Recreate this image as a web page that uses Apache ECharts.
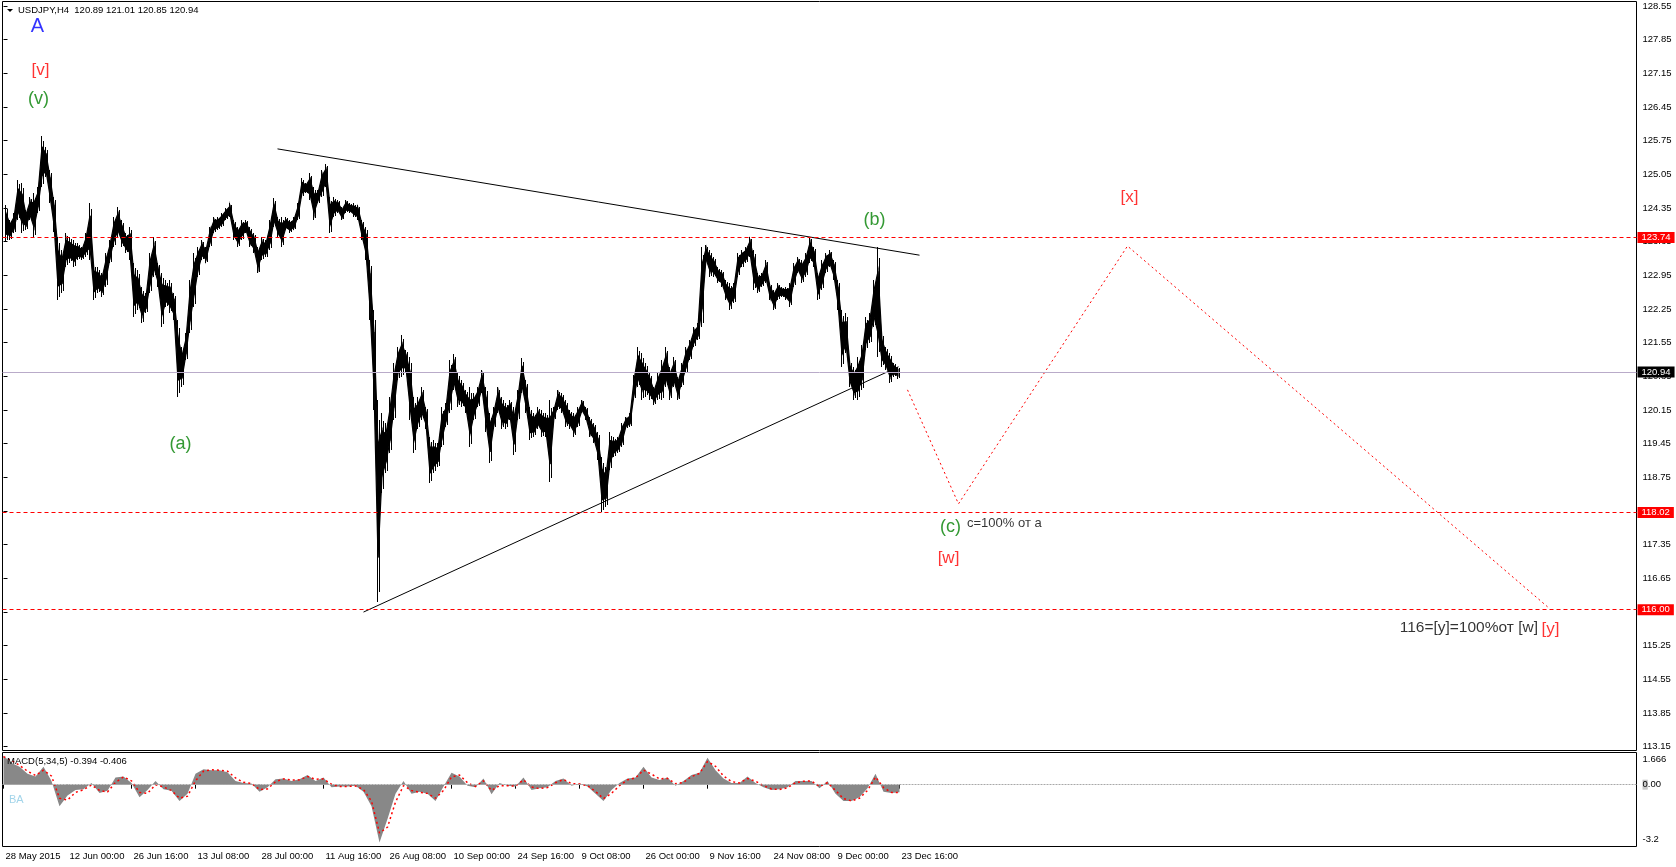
<!DOCTYPE html>
<html><head><meta charset="utf-8">
<script src="https://cdn.jsdelivr.net/npm/echarts@6/dist/echarts.min.js"></script>
<style>html,body{margin:0;padding:0;background:#fff;}#c{width:1676px;height:867px;}</style>
</head><body><div id="c"></div>
<script>
// ---- data (H4 bars grouped by 4) ----
const highs = [124.41,124.10,124.25,124.93,124.87,124.31,124.58,124.66,124.79,125.85,
125.62,125.14,124.58,123.75,123.48,123.83,123.75,123.69,123.62,123.54,
123.83,124.45,123.21,123.12,123.00,123.42,123.69,124.16,124.37,124.10,
123.83,123.96,123.21,123.06,122.71,122.58,123.42,123.75,123.21,123.00,
122.85,122.85,122.58,122.02,121.46,121.75,122.85,123.42,123.54,123.69,
123.54,123.96,124.16,124.16,124.25,124.35,124.45,124.10,123.96,124.10,
124.10,123.96,123.83,123.54,123.75,123.69,124.10,124.56,124.16,124.16,
124.16,124.10,124.16,124.45,124.97,124.87,125.08,124.79,124.72,125.14,
125.27,124.58,124.58,124.52,124.37,124.52,124.45,124.45,124.41,124.10,
123.96,123.27,122.23,120.36,120.09,119.88,120.42,121.13,121.46,121.71,
121.40,121.25,120.42,120.42,120.63,120.21,119.59,119.53,119.46,120.21,
120.30,121.19,121.32,120.92,120.77,120.57,120.63,120.50,120.63,120.98,
120.63,120.09,120.21,120.63,120.42,120.30,120.36,120.21,120.57,121.23,
120.77,120.21,120.09,120.21,120.15,120.09,120.36,120.21,120.57,120.50,
120.36,120.15,120.09,120.21,120.36,120.21,120.01,119.88,119.69,119.17,
118.97,119.69,119.59,119.59,119.88,120.01,120.09,120.88,121.46,121.34,
121.13,120.92,120.63,120.92,121.19,121.46,121.05,121.25,120.84,121.13,
121.46,121.61,121.88,121.96,123.54,123.58,123.48,123.33,123.12,123.06,
122.85,122.79,122.79,123.42,123.48,123.54,123.75,123.48,123.00,123.00,
123.27,122.79,122.65,122.79,122.71,122.71,122.79,123.21,123.33,123.27,
123.42,123.75,123.54,123.00,123.27,123.42,123.48,123.27,122.85,122.23,
122.17,121.19,121.05,121.25,121.50,122.08,122.17,122.85,123.54,121.75,
121.46,121.34,121.13,121.05];
const lows = [123.64,123.69,123.83,124.10,123.83,123.89,124.10,123.75,124.25,124.79,
124.99,124.45,123.85,122.44,122.58,123.12,123.21,123.12,123.27,123.27,
123.33,123.27,122.44,122.58,122.50,122.71,123.21,123.54,123.75,123.54,
123.42,123.27,122.08,122.23,121.96,122.17,122.58,122.92,122.71,121.88,
122.29,122.17,122.02,120.42,120.63,121.19,121.75,122.29,122.92,123.27,
123.21,123.54,123.83,123.89,123.96,124.10,124.16,123.69,123.54,123.69,
123.83,123.54,123.42,123.00,123.27,123.33,123.48,123.96,123.75,123.54,
123.89,123.83,123.89,124.10,124.58,124.66,124.52,124.10,124.45,124.58,
124.79,123.83,124.16,124.25,124.10,124.25,124.25,124.16,124.10,123.69,
123.27,122.02,120.15,116.16,118.42,118.84,119.26,119.94,120.77,120.84,
120.92,119.94,119.26,119.76,119.94,119.76,118.63,118.84,118.97,119.38,
119.80,120.09,120.57,120.21,120.21,120.09,119.38,119.94,120.21,120.50,
119.69,119.05,119.76,120.09,119.76,119.76,119.94,119.22,119.94,120.50,
120.09,119.53,119.59,119.76,119.59,119.59,118.65,119.94,120.15,120.09,
119.80,119.76,119.59,119.80,120.09,119.94,119.59,119.46,119.11,118.03,
118.13,118.90,119.17,119.26,119.38,119.76,119.80,120.36,120.63,120.36,
120.42,120.36,120.26,120.36,120.36,120.63,120.36,120.63,120.36,120.63,
120.92,121.19,121.46,121.61,121.88,123.21,122.92,122.92,122.79,122.71,
122.44,122.23,122.38,122.92,123.12,123.21,123.33,122.65,122.58,122.71,
122.79,122.44,122.23,122.44,122.50,122.44,122.29,122.71,123.00,122.79,
122.92,123.21,123.12,122.44,122.65,123.00,123.12,122.85,122.23,121.05,
121.34,120.63,120.36,120.36,120.57,121.40,121.54,121.88,121.25,121.05,
120.98,120.71,120.84,120.81];
// MACD(5,34,5), one value every 8 bars
const macdHist = [1.5,1.12,0.93,0.56,0.43,0.93,0.19,-1.12,-0.56,-0.28,-0.24,0.09,-0.43,-0.32,0.37,0.43,0.09,-0.65,-0.28,0.19,
-0.24,-0.32,-0.84,-0.47,0.56,0.80,0.75,0.75,0.65,0.19,0.09,0.06,-0.37,-0.13,0.28,0.32,0.19,0.28,0.5,0.19,
0.37,-0.13,-0.09,-0.09,-0.06,-0.37,-1.12,-2.99,-1.78,-0.47,0.19,-0.47,-0.37,-0.47,-0.84,-0.09,0.62,0.43,-0.06,-0.13,
0.32,-0.5,0.09,-0.06,-0.09,0.37,-0.28,-0.19,-0.13,0.19,0.32,-0.06,0.06,-0.09,-0.47,-0.84,-0.28,0.09,0.32,0.37,
0.93,0.37,0.24,0.37,-0.06,0.19,0.5,0.62,1.4,0.75,0.32,0.09,0.09,0.43,0.09,-0.13,-0.28,-0.24,-0.13,0.19,
0.19,0.19,-0.19,0.19,-0.47,-0.84,-0.84,-0.65,-0.19,0.56,-0.37,-0.43,-0.394];
const macdSignal = [1.45,1.25,1.0,0.7,0.48,0.75,0.45,-0.7,-0.8,-0.4,-0.26,-0.02,-0.3,-0.38,0.12,0.4,0.2,-0.4,-0.45,0.0,
-0.12,-0.3,-0.7,-0.6,0.2,0.7,0.77,0.75,0.7,0.35,0.12,0.07,-0.25,-0.22,0.15,0.3,0.24,0.25,0.42,0.28,
0.3,0.02,-0.1,-0.09,-0.07,-0.25,-0.85,-2.5,-2.2,-0.9,-0.05,-0.3,-0.4,-0.45,-0.7,-0.3,0.4,0.5,0.1,-0.1,
0.2,-0.3,-0.05,-0.05,-0.08,0.25,-0.12,-0.2,-0.15,0.1,0.27,0.05,0.04,-0.05,-0.35,-0.72,-0.45,-0.05,0.25,0.35,
0.75,0.55,0.3,0.33,0.05,0.12,0.42,0.58,1.2,0.95,0.45,0.16,0.09,0.32,0.18,-0.05,-0.22,-0.25,-0.16,0.1,
0.18,0.19,-0.08,0.1,-0.3,-0.72,-0.84,-0.7,-0.3,0.4,-0.15,-0.4,-0.406];
const timeLabels = ['28 May 2015','12 Jun 00:00','26 Jun 16:00','13 Jul 08:00','28 Jul 00:00','11 Aug 16:00','26 Aug 08:00','10 Sep 00:00','24 Sep 16:00','9 Oct 08:00','26 Oct 00:00','9 Nov 16:00','24 Nov 08:00','9 Dec 00:00','23 Dec 16:00'];
const timeTickBars = [0,64,128,192,256,320,384,448,512,576,640,704,768,832,896];
const priceTicks = [113.15,113.85,114.55,115.25,115.95,116.65,117.35,118.05,118.75,119.45,120.15,120.85,121.55,122.25,122.95,123.65,124.35,125.05,125.75,126.45,127.15,127.85,128.55];
const macdTicks = [-3.2,0,1.666];
const levels = [123.74,118.02,116.00];
const bidPrice = 120.94;
const upperTrend = [[274,125.58],[916,123.37]];
const lowerTrend = [[360,115.95],[895,121.05]];
const projection = [[904,120.57],[955,118.20],[1124,123.56],[1544,116.06]];
const waveLabels = ['A','[v]','(v)','(a)','(b)','(c)','[w]','[x]','[y]'];
const waveBars   = [34,37,35,177,871,947,945,1126,1547];
const wavePrices = [128.13,127.22,126.62,119.45,124.10,117.72,117.07,124.58,115.60];
const noteTexts  = ['c=100% от а','116=[y]=100%от [w]'];
const noteBars   = [963,1535];
const notePrices = [117.80,115.62];
const header = 'USDJPY,H4  120.89 121.01 120.85 120.94';
const macdHeader = 'MACD(5,34,5) -0.394 -0.406';

// ---- chart ----
const F = "'Liberation Sans', Arial, sans-serif";
const chart = echarts.init(document.getElementById('c'), null, {renderer:'canvas'});
function waveColor(t){ return t==='A' ? '#0000ff' : (t[0]==='[' ? '#ff0000' : '#008000'); }
function waveSize(t){ return t==='A' ? 20 : (t[0]==='[' ? 17 : 18); }
const CORE = 0.22; // share of each range trimmed off for the dense core band

const option = {
  animation:false,
  backgroundColor:'#fff',
  grid:[
    {left:2.5, top:1.5, width:1634, height:749, show:true, borderColor:'#000', borderWidth:1, backgroundColor:'#fff'},
    {left:2.5, top:752.5, width:1634, height:94, show:true, borderColor:'#000', borderWidth:1, backgroundColor:'#fff'}
  ],
  xAxis:[
    {type:'value', gridIndex:0, min:-1, max:1633, axisLine:{show:false}, axisTick:{show:false}, axisLabel:{show:false}, splitLine:{show:false}},
    {type:'value', gridIndex:1, min:-1, max:1633, axisLine:{show:false}, splitLine:{show:false},
     axisTick:{show:true, customValues:timeTickBars, length:4, lineStyle:{color:'#000'}},
     axisLabel:{show:true, customValues:timeTickBars, formatter:v=>timeLabels[timeTickBars.indexOf(v)], align:'left', padding:[0,0,0,2], margin:5, color:'#000', fontSize:9.5, fontFamily:F}}
  ],
  yAxis:[
    {type:'value', gridIndex:0, position:'right', min:113.072, max:128.644, axisLine:{show:false}, splitLine:{show:false},
     axisTick:{show:true, customValues:priceTicks, length:4, lineStyle:{color:'#000'}},
     axisLabel:{show:true, customValues:priceTicks, formatter:v=>v.toFixed(2), margin:6, color:'#000', fontSize:9.5, fontFamily:F}},
    {type:'value', gridIndex:1, position:'right', min:-3.2, max:1.666, axisLine:{show:false}, splitLine:{show:false}, axisTick:{show:false},
     axisLabel:{show:true, customValues:macdTicks, margin:6, color:'#000', fontSize:9.5, fontFamily:F,
       formatter:v=> v>1 ? '{t|1.666}' : (v<-1 ? '{b|-3.2}' : '{z|0}.00'),
       rich:{t:{padding:[14,0,0,0], fontSize:9.5, fontFamily:F}, b:{padding:[0,0,14,0], fontSize:9.5, fontFamily:F}, z:{backgroundColor:'#c8c8c8', fontSize:9.5, fontFamily:F}}}}
  ],
  graphic:[
    {type:'polygon', shape:{points:[[7,9],[13,9],[10,12]]}, style:{fill:'#000'}},
    {type:'text', left:18, top:5, style:{text:header, font:'9.5px '+F, fill:'#000'}},
    {type:'text', left:7, top:756, style:{text:macdHeader, font:'9.5px '+F, fill:'#000'}, z:100},
    {type:'text', left:9, top:794, style:{text:'BA', font:'11px '+F, fill:'#a3d5ea'}, z:100}
  ],
  series:[
    { // level lines and bid line with price tags
      type:'line', xAxisIndex:0, yAxisIndex:0, data:[], clip:false, silent:true,
      markLine:{silent:true, symbol:['none','none'], animation:false,
        data: levels.map(v=>({yAxis:v, lineStyle:{color:'#ff0000', type:[4,3], width:1},
              label:{show:true, position:'end', distance:1, formatter:v.toFixed(2), color:'#fff', backgroundColor:'#ff0000', padding:[1,4,0,4], fontSize:9.5, fontFamily:F}}))
          .concat([{yAxis:bidPrice, lineStyle:{color:'#b9abc9', type:'solid', width:1},
              label:{show:true, position:'end', distance:1, formatter:bidPrice.toFixed(2), color:'#fff', backgroundColor:'#000', padding:[1,4,0,4], fontSize:9.5, fontFamily:F}}])
      }
    },
    { // price bars: thin full-range wicks plus a dense core band joined to the next group
      type:'custom', xAxisIndex:0, yAxisIndex:0, silent:true,
      data: highs.map((h,i)=>[4*i+2.5, h, lows[i]]),
      encode:{x:0, y:[1,2]},
      renderItem:(params, api)=>{
        const k = params.dataIndex;
        const xb = api.value(0), hi = api.value(1), lo = api.value(2);
        const h0 = api.coord([xb, hi]);
        const l0 = api.coord([xb, lo]);
        const cx = Math.round(h0[0]);
        const children = [{type:'rect', shape:{x:cx-1, y:Math.round(h0[1]), width:1, height:Math.max(1,Math.round(l0[1]-h0[1]))}, style:{fill:'#000'}},
                          {type:'rect', shape:{x:cx+1, y:Math.round(h0[1]+ (l0[1]-h0[1])*0.1), width:1, height:Math.max(1,Math.round((l0[1]-h0[1])*0.85))}, style:{fill:'#000'}}];
        if (k+1 < highs.length) {
          const r0 = hi - lo, hi1 = highs[k+1], lo1 = lows[k+1], r1 = hi1 - lo1;
          const a = api.coord([xb, hi - r0*CORE]), b = api.coord([xb+4, hi1 - r1*CORE]);
          const c = api.coord([xb+4, lo1 + r1*CORE]), d = api.coord([xb, lo + r0*CORE]);
          children.push({type:'polygon', shape:{points:[a,b,c,d]}, style:{fill:'#000', stroke:'#000', lineWidth:1.2}});
        }
        return {type:'group', children:children};
      }
    },
    {type:'line', xAxisIndex:0, yAxisIndex:0, data:upperTrend, symbol:'none', silent:true, lineStyle:{color:'#000', width:1}},
    {type:'line', xAxisIndex:0, yAxisIndex:0, data:lowerTrend, symbol:'none', silent:true, lineStyle:{color:'#000', width:1}},
    {type:'line', xAxisIndex:0, yAxisIndex:0, data:projection, symbol:'none', silent:true, lineStyle:{color:'#ff0000', width:1, type:[2,3]}},
    {type:'scatter', xAxisIndex:0, yAxisIndex:0, symbolSize:1, silent:true, itemStyle:{color:'rgba(0,0,0,0)'},
     data: waveLabels.map((t,i)=>({value:[waveBars[i], wavePrices[i]],
        label:{show:true, position:'inside', formatter:t, color:waveColor(t), fontSize:waveSize(t), fontFamily:F}}))},
    {type:'scatter', xAxisIndex:0, yAxisIndex:0, symbolSize:1, silent:true, itemStyle:{color:'rgba(0,0,0,0)'},
     data: noteTexts.map((t,i)=>({value:[noteBars[i], notePrices[i]],
        label:{show:true, position: i===0 ? 'right' : 'left', distance:0, formatter:t, color:'#000', fontSize: i===0 ? 13 : 15.5, fontFamily:F}}))},
    // MACD panel
    {type:'line', xAxisIndex:1, yAxisIndex:1, data:macdHist.map((v,i)=>[8*i, v]), symbol:'none', silent:true,
     lineStyle:{width:0}, areaStyle:{color:'#888888', opacity:1},
     markLine:{silent:true, symbol:['none','none'], label:{show:false}, data:[{yAxis:0}], lineStyle:{color:'#a8a8a8', type:[2,1], width:1}}},
    {type:'line', xAxisIndex:1, yAxisIndex:1, data:macdSignal.map((v,i)=>[8*i, v]), symbol:'none', silent:true,
     lineStyle:{color:'#ff0000', width:1.5, type:[2,3]}}
  ]
};
chart.setOption(option);
</script></body></html>
